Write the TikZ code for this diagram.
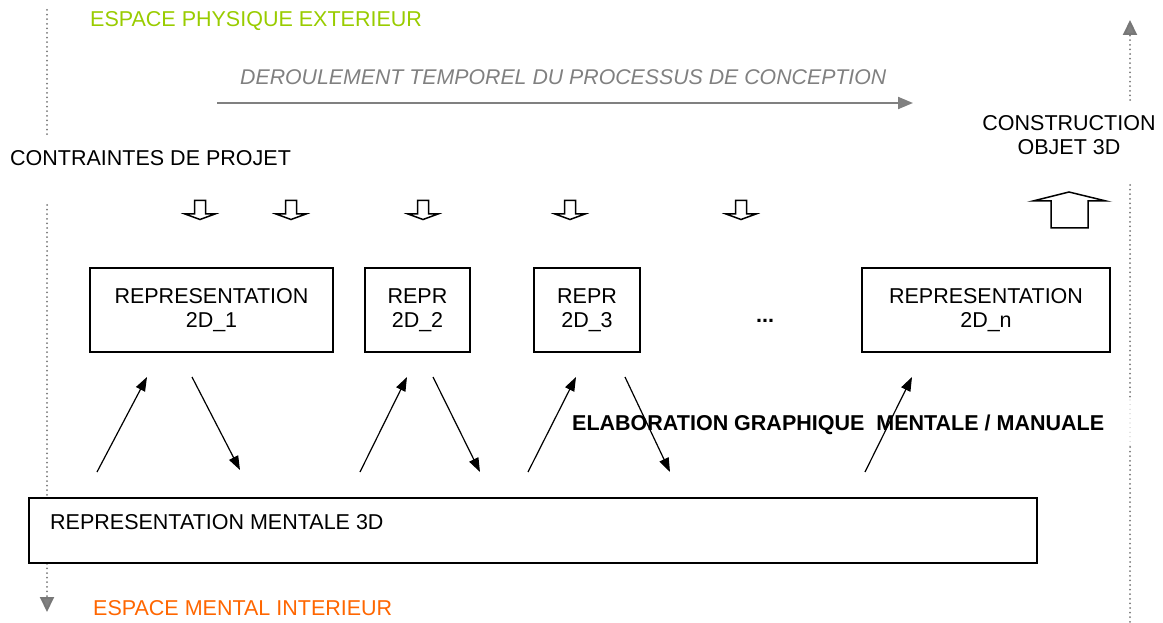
\documentclass[tikz,border=0pt]{standalone}
\usepackage{fontspec}
\setmainfont{Liberation Sans}
\usetikzlibrary{arrows.meta,positioning}
\definecolor{cpGrey}{HTML}{808080}
\definecolor{cpDot}{HTML}{777777}
\definecolor{cpGreen}{HTML}{99CC00}
\definecolor{cpOrange}{HTML}{FF6600}
\tikzset{
  cp diagram/.style={font=\fontsize{21.5}{24}\selectfont, text=black, x=1pt, y=-1pt},
  cp box/.style={draw=black, fill=white, line width=1.8pt, align=center, inner sep=0pt},
  cp text/.style={inner sep=0pt, anchor=base west},
  cp arrow/.style={-{Triangle[length=14pt,width=10pt]}, draw=black, line width=1.2pt},
  cp time/.style={-{Triangle[length=15pt,width=12pt]}, draw=cpGrey, line width=2pt},
  cp dots/.style={draw=cpDot, line width=2pt, line cap=round, dash pattern=on 0pt off 4.6pt},
  cp faint/.style={cp dots, draw=cpGrey!50, line width=1.2pt},
  cp dots end/.style={cp dots, -{Triangle[length=15pt,width=14pt,fill=cpGrey]}},
  cp block/.style={draw=black, fill=white, line width=1.5pt, line join=miter},
  cp down/.pic={\draw[cp block] (-5.5,-9.5) -- (5.5,-9.5) -- (5.5,4) -- (15,4) -- (0,9.5) -- (-15,4) -- (-5.5,4) -- cycle;}
}
\begin{document}
\begin{tikzpicture}[cp diagram]
\useasboundingbox (0,0) rectangle (1163,623);
% espace limits
\draw[cp dots] (47,10) -- (47,135);
\draw[cp dots end] (47,205) -- (47,612);
\draw[cp dots end] (1130,100) -- (1130,20);
\draw[cp dots] (1130,185) -- (1130,400);
\draw[cp faint] (1130,400) -- (1130,447);
\draw[cp dots] (1130,447) -- (1130,623);
\node[cp text, text=cpGreen] (physique) at (90,27) {ESPACE PHYSIQUE EXTERIEUR};
\node[cp text, text=cpOrange] (mentalsp) at (93,615.5) {ESPACE MENTAL INTERIEUR};
% time
\node[cp text, text=cpGrey, font=\fontsize{21.3}{24}\selectfont\itshape] (temps) at (240,84.5) {DEROULEMENT TEMPOREL DU PROCESSUS DE CONCEPTION};
\coordinate (t0) at (217,103);
\coordinate (t1) at (913,103);
\draw[cp time] (t0) -- (t1);
\node[cp text] (contraintes) at (10,165.5) {CONTRAINTES DE PROJET};
\node[align=center, inner sep=0pt] (construction) at (1069,135) {CONSTRUCTION\\OBJET 3D};
\pic at (200,210) {cp down};
\pic at (291,210) {cp down};
\pic at (423,210) {cp down};
\pic at (570,210) {cp down};
\pic at (741,210) {cp down};
\draw[cp block] (1051,228) -- (1051,201) -- (1033,201) -- (1069,192) -- (1106,201) -- (1088,201) -- (1088,228) -- cycle;
% representations
\node[cp box, minimum width=243pt, minimum height=84pt] (rep1) at (211.5,310) {REPRESENTATION\\2D\_1};
\node[cp box, minimum width=105pt, minimum height=84pt] (rep2) at (417.5,310) {REPR\\2D\_2};
\node[cp box, minimum width=106pt, minimum height=84pt] (rep3) at (587,310) {REPR\\2D\_3};
\node[font=\fontsize{21.5}{24}\selectfont\bfseries, inner sep=0pt] (etc) at (765,321) {...};
\node[cp box, minimum width=248pt, minimum height=84pt] (repn) at (986,310) {REPRESENTATION\\2D\_n};
\node[cp box, minimum width=1008pt, minimum height=65pt] (mental) at (533,530.5) {};
\node[cp text] (mentaltxt) at (50,529.5) {REPRESENTATION MENTALE 3D};
% allers-retours
\path (97,472) coordinate (m1) (147,377) coordinate (r1a)
      (192,377) coordinate (r1b) (240,470) coordinate (m2)
      (360,472) coordinate (m3) (407,377) coordinate (r2a)
      (433,377) coordinate (r2b) (480,472) coordinate (m4)
      (528,472) coordinate (m5) (576,377) coordinate (r3a)
      (625,377) coordinate (r3b) (670,472) coordinate (m6)
      (865,472) coordinate (m7) (912,377) coordinate (rna);
\draw[cp arrow] (m1) -- (r1a);
\draw[cp arrow] (r1b) -- (m2);
\draw[cp arrow] (m3) -- (r2a);
\draw[cp arrow] (r2b) -- (m4);
\draw[cp arrow] (m5) -- (r3a);
\draw[cp arrow] (r3b) -- (m6);
\node[cp text, font=\fontsize{21.5}{24}\selectfont\bfseries] (elab) at (572,430.5) {ELABORATION GRAPHIQUE \ MENTALE / MANUALE};
\draw[cp arrow] (m7) -- (rna);
\end{tikzpicture}
\end{document}
